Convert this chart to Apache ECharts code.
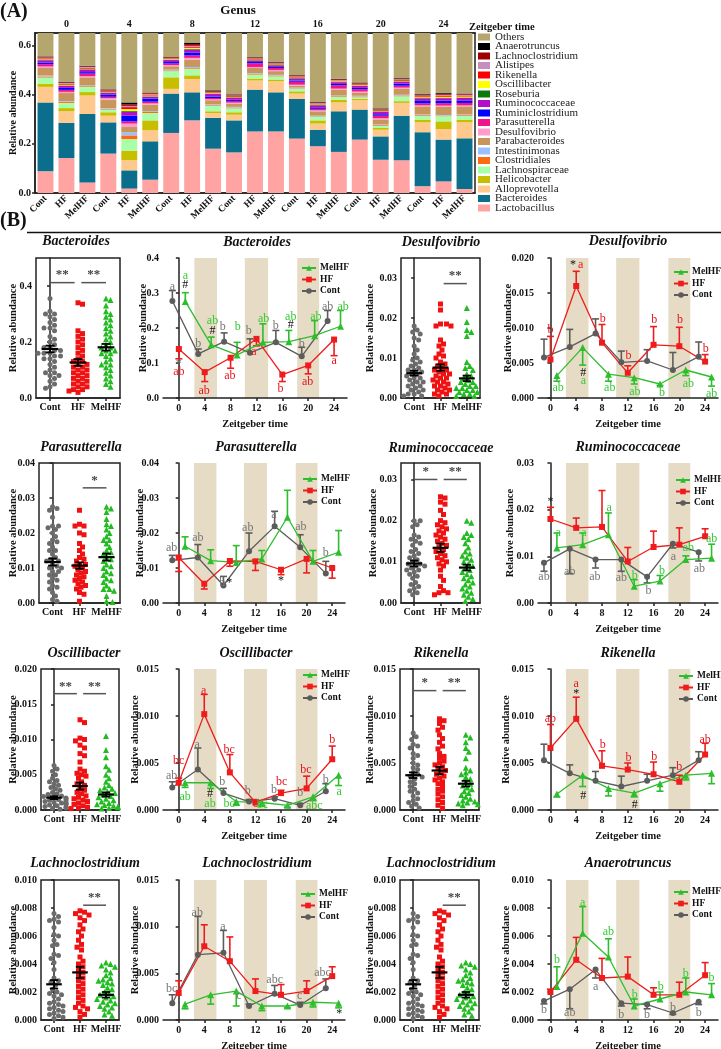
<!DOCTYPE html>
<html>
<head>
<meta charset="utf-8">
<script src="https://cdn.jsdelivr.net/npm/echarts@6/dist/echarts.min.js"></script>
<style>
  html, body { margin: 0; padding: 0; background: #fff; }
  #main { width: 721px; height: 1049px; }
</style>
</head>
<body>
<div id="main"></div>
<script>
// ---------- shared labels ----------
const groupNames = ['Cont', 'HF', 'MelHF'];
const timePoints = [0, 4, 8, 12, 16, 20, 24];

// ---------- panel A: genus stacked bars (Cont0, HF0, MelHF0, Cont4, ...) ----------
const genusNames = ['Lactobacillus', 'Bacteroides', 'Alloprevotella', 'Helicobacter', 'Lachnospiraceae',
  'Clostridiales', 'Intestinimonas', 'Parabacteroides', 'Desulfovibrio', 'Parasutterella',
  'Ruminiclostridium', 'Ruminococcaceae', 'Roseburia', 'Oscillibacter', 'Rikenella', 'Alistipes',
  'Lachnoclostridium', 'Anaerotruncus', 'Others'];
const lactobacillus = [.088, .142, .043, .160, .018, .054, .244, .295, .180, .165, .250, .250, .221, .190, .167, .217, .135, .133, .027, .047, .016];
const bacteroides = [.280, .143, .278, .127, .074, .156, .160, .114, .125, .130, .170, .159, .161, .067, .165, .122, .095, .181, .220, .170, .206];
const alloprevotella = [.063, .047, .075, .027, .041, .045, .019, .054, .020, .023, .037, .045, .022, .025, .036, .038, .027, .052, .040, .043, .065];
const helicobacter = [.013, .013, .014, .014, .039, .040, .047, .015, .007, .010, .008, .007, .009, .013, .011, .006, .007, .007, .011, .031, .011];
const lachnospiraceae = [.025, .021, .021, .011, .047, .030, .025, .027, .023, .016, .016, .013, .010, .014, .011, .006, .009, .020, .016, .021, .016];
const clostridiales = [.004, .004, .003, .003, .015, .004, .003, .003, .003, .003, .003, .003, .002, .002, .003, .003, .003, .003, .003, .002, .003];
const intestinimonas = [.004, .003, .003, .003, .013, .003, .003, .004, .003, .003, .003, .003, .003, .003, .003, .003, .003, .003, .003, .003, .003];
const parabacteroides = [.031, .033, .033, .034, .021, .027, .014, .030, .016, .013, .021, .015, .008, .018, .024, .012, .020, .024, .032, .034, .032];
const desulfovibrio = [.006, .005, .005, .006, .014, .005, .005, .007, .004, .004, .004, .005, .004, .004, .004, .005, .005, .005, .004, .004, .004];
const parasutterella = [.009, .008, .010, .006, .009, .007, .006, .010, .005, .007, .015, .008, .012, .006, .014, .010, .010, .008, .008, .010, .010];
const ruminiclostridium = [.006, .008, .006, .008, .023, .012, .006, .012, .006, .005, .005, .004, .005, .006, .005, .005, .006, .008, .010, .010, .010];
const ruminococcaceae = [.010, .008, .010, .008, .016, .008, .008, .012, .010, .008, .006, .006, .008, .008, .007, .008, .010, .008, .010, .010, .010];
const roseburia = [.002, .002, .002, .002, .003, .002, .002, .003, .002, .002, .002, .002, .002, .002, .002, .002, .002, .002, .002, .002, .002];
const oscillibacter = [.002, .003, .002, .002, .008, .003, .002, .004, .002, .002, .002, .002, .002, .002, .002, .002, .002, .002, .003, .004, .004];
const rikenella = [.004, .004, .004, .003, .008, .004, .003, .005, .003, .003, .003, .003, .003, .003, .003, .003, .003, .004, .004, .005, .004];
const alistipes = [.003, .003, .003, .002, .005, .003, .002, .003, .002, .002, .002, .002, .002, .002, .002, .002, .002, .002, .003, .003, .003];
const lachnoclostridium = [.003, .003, .003, .003, .006, .003, .003, .007, .003, .003, .003, .003, .003, .003, .003, .003, .003, .003, .004, .004, .003];
const anaerotruncus = [.002, .002, .002, .002, .008, .002, .002, .006, .003, .002, .002, .002, .002, .002, .002, .002, .002, .002, .002, .003, .002];
const others = [.45, .53, .48, .56, .63, .57, .44, .39, .58, .60, .45, .48, .51, .62, .54, .55, .64, .53, .59, .58, .58];
const genusValues = [lactobacillus, bacteroides, alloprevotella, helicobacter, lachnospiraceae, clostridiales,
  intestinimonas, parabacteroides, desulfovibrio, parasutterella, ruminiclostridium, ruminococcaceae,
  roseburia, oscillibacter, rikenella, alistipes, lachnoclostridium, anaerotruncus, others];
const genusColors = ['#FFA3A3', '#0B6E8C', '#FFC88C', '#C8BE00', '#A8FFA8', '#FF6A10', '#9CC0FF', '#C8965A',
  '#FF9CCB', '#F0148C', '#0000FF', '#B010C8', '#0A7A0A', '#FFFF00', '#FF0000', '#C88CC0', '#9C0000',
  '#000000', '#B5A66E'];

// ---------- panel B: per-animal dots ----------
const bactDotCont = [.355, .31, .30, .30, .29, .28, .27, .26, .25, .25, .24, .22, .21, .20, .19, .18, .18, .17, .17, .16, .16, .16, .15, .15, .14, .14, .13, .12, .11, .10, .09, .09, .08, .08, .07, .06, .05, .04, .035];
const bactDotHF = [.34, .335, .24, .23, .22, .21, .20, .19, .18, .17, .16, .15, .14, .13, .13, .12, .12, .11, .11, .10, .10, .09, .09, .08, .08, .07, .07, .06, .06, .05, .05, .04, .04, .03, .03, .025, .02];
const bactDotMel = [.355, .35, .33, .31, .30, .29, .28, .27, .26, .25, .24, .23, .22, .21, .20, .19, .18, .18, .17, .17, .16, .16, .15, .14, .13, .12, .12, .11, .10, .09, .08, .07, .06, .05, .04];
const desulDotCont = [.018, .017, .0165, .016, .015, .0145, .013, .012, .011, .010, .0095, .009, .0085, .008, .0075, .007, .007, .0065, .006, .006, .0055, .005, .005, .0045, .004, .004, .0035, .003, .003, .0025, .002, .002, .0015, .001, .001, .0005, .0005];
const desulDotHF = [.0235, .022, .0185, .018, .018, .0185, .0145, .0135, .013, .012, .011, .0105, .010, .009, .0085, .008, .0075, .007, .007, .0065, .006, .006, .0055, .005, .005, .0045, .004, .004, .0035, .003, .003, .0025, .002, .002, .0015, .001, .001, .0005];
const desulDotMel = [.0225, .019, .017, .0165, .0155, .009, .008, .0075, .007, .006, .0055, .005, .0045, .004, .004, .0035, .003, .003, .0025, .0025, .002, .002, .0015, .0015, .001, .001, .0005, .0005];
const paraDotCont = [.0275, .027, .0265, .0245, .022, .022, .0215, .021, .020, .019, .018, .0175, .017, .016, .015, .015, .014, .013, .0125, .012, .012, .011, .0105, .010, .010, .009, .009, .008, .008, .007, .0065, .006, .005, .0045, .004, .003, .002, .001, .0005];
const paraDotHF = [.0265, .022, .0225, .022, .020, .0195, .017, .016, .015, .014, .013, .0125, .012, .011, .011, .0105, .010, .0095, .009, .0085, .008, .0075, .007, .0065, .006, .0055, .005, .0045, .004, .003, .0025, .0005];
const paraDotMel = [.0275, .027, .026, .024, .0225, .022, .021, .020, .019, .018, .018, .017, .016, .015, .0145, .014, .013, .0125, .012, .011, .0105, .010, .009, .0085, .008, .007, .0065, .006, .005, .004, .004, .0035, .002, .0005, .0003];
const rumiDotCont = [.020, .020, .019, .0185, .0165, .016, .0155, .015, .0145, .014, .013, .0125, .012, .0115, .011, .0105, .010, .0095, .0095, .009, .009, .0085, .008, .008, .0075, .007, .0065, .006, .005, .0045, .004, .0035, .003, .0025, .002];
const rumiDotHF = [.0258, .0255, .0245, .024, .0225, .0215, .020, .0195, .019, .0185, .018, .0175, .017, .0165, .016, .0155, .015, .0145, .014, .0135, .013, .0125, .012, .0115, .011, .0105, .010, .0095, .009, .008, .0065, .0055, .004, .003, .0025, .0025, .002];
const rumiDotMel = [.020, .0195, .017, .0165, .016, .0155, .0145, .0135, .0125, .012, .0115, .011, .0105, .010, .0095, .009, .0085, .008, .0075, .007, .0065, .006, .0055, .005, .0045, .004, .0035, .003, .0025, .002, .0015, .001, .0005];
const oscDotCont = [.0063, .0058, .0055, .0050, .0045, .0042, .0040, .0037, .0035, .0032, .0030, .0028, .0025, .0023, .0022, .0020, .0019, .0018, .0017, .0016, .0015, .0014, .0013, .0012, .0011, .0010, .0010, .0009, .0008, .0007, .0006, .0005, .0004, .0003, .0002, .0001];
const oscDotHF = [.0128, .0124, .0102, .0100, .0098, .0092, .0088, .0080, .0077, .0068, .0058, .0055, .0052, .0050, .0048, .0045, .0040, .0037, .0035, .0030, .0028, .0025, .0023, .0020, .0018, .0016, .0014, .0012, .0010, .0008, .0006, .0004, .0003, .0002];
const oscDotMel = [.0105, .0085, .0075, .0062, .0057, .0050, .0045, .0040, .0035, .0032, .0030, .0028, .0026, .0024, .0022, .0020, .0018, .0016, .0014, .0012, .0010, .0008, .0007, .0006, .0005, .0004, .0003, .0002];
const rikDotCont = [.0082, .0078, .0075, .0070, .0068, .0066, .0060, .0058, .0055, .0050, .0048, .0045, .0043, .0040, .0038, .0036, .0035, .0033, .0030, .0028, .0025, .0022, .0020, .0018, .0015, .0012, .0010, .0008, .0006, .0004, .0002];
const rikDotHF = [.0097, .0095, .0092, .0088, .0085, .0080, .0076, .0072, .0068, .0065, .0060, .0057, .0055, .0052, .0050, .0048, .0046, .0044, .0042, .0040, .0038, .0036, .0034, .0032, .0030, .0028, .0025, .0022, .0020, .0017, .0014, .0011, .0008, .0005, .0002];
const rikDotMel = [.0080, .0077, .0072, .0066, .0062, .0055, .0045, .0042, .0040, .0038, .0035, .0033, .0030, .0028, .0026, .0024, .0022, .0020, .0018, .0016, .0014, .0012, .0010, .0009, .0008, .0007, .0006, .0005];
const lachDotCont = [.0076, .0074, .0072, .0071, .0070, .0066, .0061, .0060, .0057, .0054, .0053, .0047, .0046, .0044, .0041, .0036, .0030, .0028, .0027, .0025, .0022, .0020, .0019, .0018, .0017, .0015, .0013, .0012, .0011, .0010, .0009, .0008, .0007, .0006, .0005, .0004, .0003, .0002, .0001];
const lachDotHF = [.0078, .0077, .0076, .0075, .0073, .0071, .0068, .0065, .0063, .0060, .0057, .0054, .0052, .0050, .0045, .0042, .0040, .0038, .0036, .0034, .0032, .0030, .0028, .0026, .0024, .0022, .0020, .0018, .0016, .0014, .0012, .0010, .0009, .0008, .0006, .0004, .0002];
const lachDotMel = [.0041, .0040, .0039, .0038, .0036, .0034, .0032, .0030, .0029, .0028, .0027, .0026, .0025, .0023, .0022, .0020, .0019, .0018, .0017, .0016, .0015, .0014, .0013, .0012, .0011, .0010, .0009, .0008, .0006, .0004, .0003];

// mean and SEM per group [Cont, HF, MelHF]
const bactStats = [[.175, .012], [.127, .012], [.181, .012]];
const desulStats = [[.0062, .0006], [.0076, .0008], [.0049, .0007]];
const paraStats = [[.0117, .0010], [.0107, .0009], [.0131, .0010]];
const rumiStats = [[.0096, .0007], [.0134, .0010], [.0086, .0007]];
const oscStats = [[.00175, .0002], [.0034, .0005], [.0022, .0003]];
const rikStats = [[.0037, .0003], [.0042, .0004], [.0028, .0003]];
const lachStats = [[.00255, .0003], [.0034, .0004], [.0018, .0002]];

// significance bars [from group, to group, height, stars]
const bactSig = [[0, 1, .412, '**'], [1, 2, .412, '**']];
const desulSig = [[1, 2, .0286, '**']];
const paraSig = [[1, 2, .0329, '*']];
const rumiSig = [[0, 1, .030, '*'], [1, 2, .030, '**']];
const oscSig = [[0, 1, .0165, '**'], [1, 2, .0165, '**']];
const rikSig = [[0, 1, .0127, '*'], [1, 2, .0127, '**']];
const lachSig = [[1, 2, .0082, '**']];

// ---------- panel B: time courses [mean, error (+ up / - down)] ----------
const bactCont = [[.277, .030], [.126, .014], [.161, .025], [.129, .040], [.159, .034], [.119, .026], [.220, .030]];
const bactHF = [[.140, -.028], [.074, -.027], [.115, -.030], [.169, -.020], [.067, -.020], [.093, -.024], [.167, -.046]];
const bactMel = [[.276, .025], [.152, .022], [.123, .036], [.159, .053], [.161, .032], [.178, .043], [.205, .045]];
const desulCont = [[.0058, .0026], [.0073, .0025], [.0092, .0021], [.0051, .0016], [.0053, .0016], [.0040, .0025], [.0059, .0021]];
const desulHF = [[.0055, .0033], [.0160, .0021], [.0079, .0026], [.0036, .0010], [.0076, .0026], [.0074, .0027], [.0052, .0010]];
const desulMel = [[.0032, -.0008], [.0072, -.0025], [.0034, -.0010], [.0029, -.0009], [.0020, -.0002], [.0040, -.0008], [.0030, -.0013]];
const paraCont = [[.0122, .0014], [.0130, .0037], [.0050, .0026], [.0148, .0052], [.0219, .0043], [.0159, .0036], [.0084, .0035]];
const paraHF = [[.0130, -.0040], [.0055, -.0015], [.0120, -.0015], [.0119, -.0026], [.0095, -.0014], [.0126, -.0040], [.0100, -.0029]];
const paraMel = [[.0162, .0027], [.0121, .0031], [.0116, .0048], [.0126, .0024], [.0245, .0077], [.0119, .0031], [.0145, .0062]];
const rumiCont = [[.0086, -.0018], [.0116, -.0053], [.0093, -.0018], [.0093, -.0025], [.0056, -.0013], [.0127, -.0009], [.0109, -.0019]];
const rumiHF = [[.0180, .0025], [.0161, .0021], [.0163, .0078], [.0089, .0030], [.0120, .0034], [.0125, .0036], [.0143, .0016]];
const rumiMel = [[.0118, .0032], [.0125, .0025], [.0146, .0047], [.0036, .0014], [.0047, .0012], [.0093, .0008], [.0096, .0030]];
const oscCont = [[.0024, .0006], [.0043, .0023], [.0018, .0005], [.0009, .0002], [.0012, .0002], [.0005, .0002], [.0020, .0008]];
const oscHF = [[.0029, .0005], [.0102, .0021], [.0040, .0019], [.0008, .0003], [.0018, .0003], [.0023, .0013], [.0054, .0014]];
const oscMel = [[.0029, -.0005], [.0029, -.0006], [.0009, -.0004], [.0008, -.0004], [.0005, -.0002], [.0014, -.0004], [.0037, -.0011]];
const rikCont = [[.0053, .0017], [.0039, .0009], [.0031, .0010], [.0025, .0011], [.0031, .0007], [.0037, .0008], [.0053, .0009]];
const rikHF = [[.0066, .0025], [.0097, .0023], [.0047, .0016], [.0043, .0007], [.0038, .0013], [.0030, .0007], [.0059, .0012]];
const rikMel = [[.0017, -.0003], [.0037, -.0012], [.0023, -.0008], [.0018, -.0004], [.0028, -.0008], [.0037, -.0005], [.0039, -.0011]];
const lachCont = [[.0018, .0009], [.0070, .0041], [.0072, .0024], [.0015, .0002], [.0028, .0009], [.0016, .0003], [.0034, .0010]];
const lachHF = [[.0029, .0013], [.0079, .0023], [.0063, .0026], [.0031, .0013], [.0027, .0011], [.0031, .0011], [.0047, .0010]];
const lachMel = [[.0017, -.0005], [.0027, -.0010], [.0031, -.0016], [.0015, -.0005], [.0015, -.0002], [.0019, -.0005], [.0018, -.0005]];
const anaeCont = [[.00135, -.0002], [.0022, -.0014], [.0036, -.0006], [.0012, -.0002], [.0011, -.0003], [.0005, -.0001], [.0013, -.0002]];
const anaeHF = [[.0020, .0002], [.0043, .0016], [.0030, .0014], [.0031, .0014], [.0018, .0005], [.0018, .0009], [.0032, .0009]];
const anaeMel = [[.0024, .0014], [.0062, .0019], [.0045, .0013], [.0010, .0005], [.0015, .0005], [.0020, .0010], [.0018, .0008]];

// letters / symbols on the time courses [x, y, text, colour key]
const bactNotes = [[-1, .317, 'a', 'c'], [1, .35, 'a', 'm'], [1, .322, '#', 'k'], [3, .155, 'b', 'c'], [5.2, .221, 'ab', 'm'], [5.2, .193, '#', 'k'],
  [6.8, .202, 'b', 'c'], [9.1, .202, 'b', 'm'], [10.8, .193, 'b', 'c'], [13.1, .226, 'ab', 'm'], [15, .207, 'b', 'c'], [17.3, .231, 'ab', 'm'],
  [17.3, .209, '#', 'k'], [19, .155, 'b', 'c'], [21.2, .231, 'ab', 'm'], [23, .26, 'ab', 'c'], [25.4, .26, 'ab', 'm'], [0, .099, '*', 'c'],
  [0, .074, 'ab', 'h'], [3.9, .021, 'ab', 'h'], [7.9, .064, 'ab', 'h'], [11.6, .131, 'a', 'h'], [15.7, .026, 'b', 'h'], [19.9, .045, 'ab', 'h'], [24, .107, 'a', 'h']];
const desulNotes = [[3.5, .019, '*', 'k'], [4.7, .019, 'a', 'h'], [0, .0097, 'b', 'h'], [8.1, .0113, 'b', 'h'], [12.1, .006, 'b', 'h'], [16.1, .0111, 'b', 'h'],
  [20.1, .0111, 'b', 'h'], [24.1, .007, 'b', 'h'], [1.2, .0014, 'ab', 'm'], [5.1, .0036, '#', 'k'], [5.1, .0025, 'a', 'm'], [9.2, .0014, 'ab', 'm'],
  [13.1, .0009, 'ab', 'm'], [17.3, .0007, 'b', 'm'], [21.4, .002, 'ab', 'm'], [25, .0006, 'ab', 'm']];
const paraNotes = [[-1.1, .0157, 'ab', 'c'], [3, .0186, 'ab', 'c'], [6.8, .0059, 'b', 'c'], [7.9, .0057, '*', 'k'], [10.8, .0214, 'ab', 'c'],
  [14.9, .0252, 'a', 'c'], [19.1, .0219, 'ab', 'c'], [23, .0143, 'b', 'c'], [16, .0062, '*', 'k']];
const rumiNotes = [[0, .0216, '*', 'k'], [1.2, .015, 'a', 'm'], [5.2, .015, 'a', 'm'], [9.1, .0204, 'a', 'm'], [13.1, .0059, 'b', 'm'], [17.3, .0068, 'b', 'm'],
  [21.4, .0118, 'ab', 'm'], [25, .0137, 'ab', 'm'], [-1, .0056, 'ab', 'c'], [3, .0066, 'ab', 'c'], [6.9, .0057, 'ab', 'c'], [11, .0054, 'ab', 'c'],
  [15.2, .0027, 'b', 'c'], [19.1, .0099, 'a', 'c'], [23.1, .0073, 'ab', 'c']];
const oscNotes = [[-1.1, .0036, 'ab', 'c'], [0, .0052, 'bc', 'h'], [3.9, .0127, 'a', 'h'], [2.9, .0069, 'a', 'c'], [7.9, .0064, 'bc', 'h'], [6.8, .003, 'b', 'c'],
  [10.8, .002, 'b', 'c'], [12, .0007, 'c', 'h'], [13.1, .0006, 'bc', 'm'], [14.9, .0021, 'b', 'c'], [16.1, .003, 'bc', 'h'], [17.2, .0004, 'c', 'm'],
  [19, .0018, 'b', 'c'], [19.9, .0043, 'bc', 'h'], [21.2, .0004, 'abc', 'm'], [23, .0032, 'b', 'c'], [24, .0075, 'b', 'h'], [25.1, .0019, 'a', 'm'],
  [1, .0014, 'ab', 'm'], [4.9, .0017, '#', 'k'], [4.9, .0007, 'ab', 'm'], [7.9, .0007, 'bc', 'm']];
const rikNotes = [[0, .0097, 'ab', 'h'], [4, .0134, 'a', 'h'], [4, .0124, '*', 'k'], [8.1, .0069, 'b', 'h'], [12.1, .0056, 'b', 'h'], [16.1, .0057, 'b', 'h'],
  [20, .0046, 'b', 'h'], [24, .0075, 'ab', 'h'], [5.1, .0015, '#', 'k'], [13.1, .0006, '#', 'k']];
const lachNotes = [[-1.1, .0033, 'bc', 'c'], [2.9, .0115, 'ab', 'c'], [6.9, .010, 'a', 'c'], [9.4, .0026, 'c', 'c'], [15, .0043, 'abc', 'c'],
  [18.9, .0026, 'c', 'c'], [22.5, .005, 'abc', 'c'], [25.1, .0007, '*', 'k']];
const anaeNotes = [[1, .0043, 'b', 'm'], [5, .0084, 'a', 'm'], [9, .0063, 'ab', 'm'], [13.1, .0018, 'b', 'm'], [17.1, .0024, 'b', 'm'], [21, .0033, 'b', 'm'],
  [25, .003, 'b', 'm'], [-1, .0007, 'b', 'c'], [3, .0005, 'ab', 'c'], [7, .0024, 'a', 'c'], [11, .0004, 'b', 'c'], [15, .0004, 'b', 'c'],
  [19, .0009, 'b', 'c'], [23, .0005, 'b', 'c']];

const darkBands = [[2.4, 5.9], [10.2, 13.8], [18.3, 21.7]];

// ---------- styles ----------
const FONT = '"Liberation Serif", "Times New Roman", serif';
const lineColors = ['#5c5c5c', '#EE1C1C', '#2DBE2D'];
const dotColors = ['#6b6b6b', '#F01212', '#22BB22'];
const symbols = ['circle', 'rect', 'triangle'];
const noteColors = { c: '#777777', h: '#E8141C', m: '#33CC33', k: '#111111' };
const axisLineStyle = { color: '#222', width: 1.5 };
const tickLabel = { fontFamily: FONT, fontWeight: 'bold', fontSize: 10, color: '#111' };

const grids = [], xAxes = [], yAxes = [], series = [], legends = [], graphics = [];

// ---------- panel A ----------
const barCategories = [];
timePoints.forEach(t => groupNames.forEach(g => barCategories.push(g + '-' + t)));
grids.push({ left: 35, top: 33, width: 440, height: 160, show: true, borderColor: '#222', borderWidth: 1.5, outerBoundsMode: 'none' });
xAxes.push({
  gridIndex: 0, type: 'category', data: barCategories,
  axisLine: { lineStyle: axisLineStyle },
  axisTick: { alignWithLabel: true, interval: 0, length: 3, lineStyle: axisLineStyle },
  axisLabel: { ...tickLabel, fontSize: 9.5, interval: 0, rotate: 45, margin: 4, formatter: v => v.split('-')[0] }
});
xAxes.push({
  gridIndex: 0, type: 'category', position: 'top', data: barCategories,
  axisLine: { lineStyle: axisLineStyle },
  axisTick: { alignWithLabel: true, interval: 0, length: 3, lineStyle: axisLineStyle },
  axisLabel: { ...tickLabel, interval: 0, margin: 4, formatter: (v, i) => (i % 3 === 1 ? v.split('-')[1] : '') }
});
yAxes.push({
  gridIndex: 0, type: 'value', min: 0, max: 0.65,
  name: 'Relative abundance', nameLocation: 'middle', nameGap: 16.5, nameMoveOverlap: false,
  nameTextStyle: { fontFamily: FONT, fontWeight: 'bold', fontSize: 10, color: '#111' },
  axisLine: { show: true, lineStyle: axisLineStyle },
  axisTick: { show: true, customValues: [0, 0.2, 0.4, 0.6], length: 3, lineStyle: axisLineStyle },
  axisLabel: { ...tickLabel, customValues: [0, 0.2, 0.4, 0.6], formatter: v => v.toFixed(1), margin: 4 },
  splitLine: { show: false }
});
genusNames.forEach((g, k) => {
  series.push({
    type: 'bar', name: g, stack: 'genus', xAxisIndex: 0, yAxisIndex: 0, barCategoryGap: '24%',
    itemStyle: { color: genusColors[k] }, data: genusValues[k], clip: true
  });
});
// legend of panel A, top item = Others
genusNames.slice().reverse().forEach((g, k) => {
  const y = 37 + k * 9.5;
  graphics.push({ type: 'rect', shape: { x: 478, y: y - 3.5, width: 12, height: 7 }, style: { fill: genusColors[genusNames.indexOf(g)] } });
  graphics.push({ type: 'text', x: 495, y: y, style: { text: g, font: '11px ' + FONT, fill: '#222', verticalAlign: 'middle' } });
});
graphics.push(
  { type: 'text', left: 0, top: 2, style: { text: '(A)', font: 'bold 20px ' + FONT, fill: '#111' } },
  { type: 'text', x: 238, y: 11, style: { text: 'Genus', font: 'bold 13px ' + FONT, fill: '#111', align: 'center', verticalAlign: 'middle' } },
  { type: 'text', x: 469, y: 27, style: { text: 'Zeitgeber time', font: 'bold 10.5px ' + FONT, fill: '#111', verticalAlign: 'middle' } },
  { type: 'text', left: 0, top: 211, style: { text: '(B)', font: 'bold 20px ' + FONT, fill: '#111' } },
  { type: 'line', shape: { x1: 27, y1: 232.5, x2: 721, y2: 232.5 }, style: { stroke: '#111', lineWidth: 1.5 } }
);

// ---------- helpers ----------
function yTicks(max, step) {
  const t = [];
  for (let v = 0; v <= max + 1e-9; v += step) t.push(+v.toFixed(6));
  return t;
}
function makeY(gi, o) {
  const ticks = yTicks(o.max, o.step);
  return {
    gridIndex: gi, type: 'value', min: 0, max: o.max,
    name: 'Relative abundance', nameLocation: 'middle', nameGap: o.nameGap, nameMoveOverlap: false,
    nameTextStyle: { fontFamily: FONT, fontWeight: 'bold', fontSize: 10.5, color: '#111' },
    axisLine: { show: true, lineStyle: axisLineStyle },
    axisTick: { show: true, customValues: ticks, length: 3, lineStyle: axisLineStyle },
    axisLabel: { ...tickLabel, customValues: ticks, formatter: v => v.toFixed(o.dec), margin: 4 },
    splitLine: { show: false }
  };
}
function title(x, y, text) {
  graphics.push({ type: 'text', x, y, style: { text, font: 'italic bold 14px ' + FONT, fill: '#111', align: 'center', verticalAlign: 'middle' } });
}
// beeswarm-like horizontal placement of the dots (pixel space)
function swarmOffsets(vals, max, h, catW) {
  const d = 4.6, placed = [], offs = [];
  const order = vals.map((v, i) => i).sort((a, b) => vals[b] - vals[a]);
  order.forEach(i => {
    const y = vals[i] / max * h;
    let x = 0;
    for (let k = 0; k < 60; k++) {
      const c = k === 0 ? 0 : (k % 2 ? 1 : -1) * Math.ceil(k / 2) * 1.5;
      if (Math.abs(c) > 12) { x = (k % 2 ? 1 : -1) * 12; break; }
      if (placed.every(p => (p[0] - c) ** 2 + (p[1] - y) ** 2 >= d * d)) { x = c; break; }
    }
    placed.push([x, y]);
    offs[i] = x / catW;
  });
  return offs;
}

function addScatterPanel(o) {
  const gi = grids.length, xi = xAxes.length, yi = yAxes.length;
  grids.push({ left: o.left, top: o.top, width: o.width, height: o.height, show: true, borderColor: '#222', borderWidth: 1.5, outerBoundsMode: 'none' });
  xAxes.push({
    gridIndex: gi, type: 'value', min: -0.5, max: 2.5,
    axisLine: { lineStyle: axisLineStyle },
    axisTick: { customValues: [0, 1, 2], length: 3, lineStyle: axisLineStyle },
    axisLabel: { ...tickLabel, customValues: [0, 1, 2], margin: 4, formatter: v => groupNames[Math.round(v)] },
    splitLine: { show: false }
  });
  yAxes.push(makeY(gi, o));
  o.dots.forEach((vals, i) => {
    const offs = swarmOffsets(vals, o.max, o.height, o.width / 3);
    series.push({
      type: 'scatter', name: groupNames[i] + ' dots', xAxisIndex: xi, yAxisIndex: yi,
      symbol: symbols[i], symbolSize: i === 2 ? 6 : 5, itemStyle: { color: dotColors[i], opacity: 1 },
      data: vals.map((v, k) => [i + offs[k], v]), z: 2
    });
  });
  series.push({
    type: 'custom', name: 'mean', xAxisIndex: xi, yAxisIndex: yi, z: 4,
    data: o.stats.map((s, i) => [i, s[0], s[1]]),
    renderItem: (p, api) => {
      const i = api.value(0), m = api.value(1), s = api.value(2);
      const c = api.coord([i, m]), hi = api.coord([i, m + s]), lo = api.coord([i, m - s]);
      const w = api.size([0.3, 0])[0], cw = api.size([0.16, 0])[0];
      const st = { stroke: '#000', lineWidth: 1.8 };
      return {
        type: 'group', children: [
          { type: 'line', shape: { x1: c[0] - w, y1: c[1], x2: c[0] + w, y2: c[1] }, style: { stroke: '#000', lineWidth: 2.2 } },
          { type: 'line', shape: { x1: c[0], y1: hi[1], x2: c[0], y2: lo[1] }, style: st },
          { type: 'line', shape: { x1: c[0] - cw, y1: hi[1], x2: c[0] + cw, y2: hi[1] }, style: st },
          { type: 'line', shape: { x1: c[0] - cw, y1: lo[1], x2: c[0] + cw, y2: lo[1] }, style: st }
        ]
      };
    }
  });
  series.push({
    type: 'custom', name: 'sig', xAxisIndex: xi, yAxisIndex: yi, z: 4,
    data: o.sig.map(s => [s[0], s[1], s[2]]),
    renderItem: (p, api) => {
      const s = o.sig[p.dataIndex];
      const a = api.coord([s[0] + (s[0] === 0 ? 0 : 0.12), s[2]]);
      const b = api.coord([s[1] - (s[1] === 1 ? 0.12 : 0), s[2]]);
      return {
        type: 'group', children: [
          { type: 'line', shape: { x1: a[0], y1: a[1], x2: b[0], y2: b[1] }, style: { stroke: '#555', lineWidth: 1.5 } },
          { type: 'text', x: (a[0] + b[0]) / 2, y: a[1] - 1, style: { text: s[3], font: 'bold 13px ' + FONT, fill: '#444', align: 'center', verticalAlign: 'bottom' } }
        ]
      };
    }
  });
  title(o.titleX, o.titleY, o.title);
}

function addLinePanel(o) {
  const gi = grids.length, xi = xAxes.length, yi = yAxes.length;
  grids.push({ left: o.left, top: o.top, width: o.width, height: o.height, outerBoundsMode: 'none' });
  xAxes.push({
    gridIndex: gi, type: 'value', min: o.xmin, max: 26,
    name: 'Zeitgeber time', nameLocation: 'middle', nameGap: 21, nameMoveOverlap: false,
    nameTextStyle: { fontFamily: FONT, fontWeight: 'bold', fontSize: 10.5, color: '#111' },
    axisLine: { lineStyle: axisLineStyle },
    axisTick: { customValues: timePoints, length: 3, lineStyle: axisLineStyle },
    axisLabel: { ...tickLabel, customValues: timePoints, margin: 5 },
    splitLine: { show: false }
  });
  yAxes.push(makeY(gi, o));
  series.push({
    type: 'custom', name: 'bands', xAxisIndex: xi, yAxisIndex: yi, z: 0, silent: true,
    data: darkBands,
    renderItem: (p, api) => {
      const a = api.coord([api.value(0), o.max]), b = api.coord([api.value(1), 0]);
      return { type: 'rect', shape: { x: a[0], y: a[1], width: b[0] - a[0], height: b[1] - a[1] }, style: { fill: '#E6DCC5' } };
    }
  });
  const offs = [-1, 0, 1];
  [o.cont, o.hf, o.mel].forEach((arr, i) => {
    const col = lineColors[i];
    series.push({
      type: 'line', name: groupNames[i], xAxisIndex: xi, yAxisIndex: yi, z: 3,
      symbol: symbols[i], symbolSize: i === 2 ? 7 : 6, showSymbol: true,
      itemStyle: { color: col }, lineStyle: { color: col, width: 1.3 },
      data: arr.map((d, k) => [timePoints[k] + offs[i], d[0]])
    });
    series.push({
      type: 'custom', name: 'err', xAxisIndex: xi, yAxisIndex: yi, z: 2,
      data: arr.map((d, k) => [timePoints[k] + offs[i], d[0], d[1]]),
      renderItem: (p, api) => {
        const x = api.value(0), y = api.value(1), e = api.value(2);
        const a = api.coord([x, y]), b = api.coord([x, y + e]);
        const st = { stroke: col, lineWidth: 1.6 };
        return {
          type: 'group', children: [
            { type: 'line', shape: { x1: a[0], y1: a[1], x2: b[0], y2: b[1] }, style: st },
            { type: 'line', shape: { x1: b[0] - 3.5, y1: b[1], x2: b[0] + 3.5, y2: b[1] }, style: st }
          ]
        };
      }
    });
  });
  series.push({
    type: 'custom', name: 'notes', xAxisIndex: xi, yAxisIndex: yi, z: 5,
    data: o.notes.map(n => [n[0], n[1]]),
    renderItem: (p, api) => {
      const n = o.notes[p.dataIndex];
      const c = api.coord([n[0], n[1]]);
      return { type: 'text', x: c[0], y: c[1], style: { text: n[2], font: '12px ' + FONT, fill: noteColors[n[3]], align: 'center', verticalAlign: 'middle' } };
    }
  });
  legends.push({
    data: ['MelHF', 'HF', 'Cont'], orient: 'vertical', left: o.legLeft, top: o.legTop, padding: 0,
    itemWidth: 14, itemHeight: 7, itemGap: 1.5, selectedMode: false,
    textStyle: { fontFamily: FONT, fontWeight: 'bold', fontSize: 9.5, color: '#111', padding: [0, 0, 0, -1] }
  });
  title(o.titleX, o.titleY, o.title);
}

// ---------- panel B layout ----------
addScatterPanel({ left: 36, top: 258, width: 84, height: 140, max: 0.5, step: 0.2, dec: 1, nameGap: 17.5,
  dots: [bactDotCont, bactDotHF, bactDotMel], stats: bactStats, sig: bactSig, title: 'Bacteroides', titleX: 76, titleY: 241 });
addLinePanel({ left: 163, top: 258, width: 184, height: 140, xmin: -2.45, max: 0.4, step: 0.1, dec: 1, nameGap: 14.5,
  cont: bactCont, hf: bactHF, mel: bactMel, notes: bactNotes, legLeft: 301, legTop: 263, title: 'Bacteroides', titleX: 257, titleY: 242 });
addScatterPanel({ left: 401, top: 258, width: 79, height: 140, max: 0.035, step: 0.01, dec: 2, nameGap: 25.5,
  dots: [desulDotCont, desulDotHF, desulDotMel], stats: desulStats, sig: desulSig, title: 'Desulfovibrio', titleX: 441, titleY: 242 });
addLinePanel({ left: 538, top: 258, width: 180, height: 140, xmin: -1.93, max: 0.02, step: 0.005, dec: 3, nameGap: 24.5,
  cont: desulCont, hf: desulHF, mel: desulMel, notes: desulNotes, legLeft: 673, legTop: 267, title: 'Desulfovibrio', titleX: 628, titleY: 241 });

addScatterPanel({ left: 39, top: 463, width: 81, height: 140, max: 0.04, step: 0.01, dec: 2, nameGap: 20.5,
  dots: [paraDotCont, paraDotHF, paraDotMel], stats: paraStats, sig: paraSig, title: 'Parasutterella', titleX: 81, titleY: 447 });
addLinePanel({ left: 163, top: 463, width: 182, height: 140, xmin: -2.45, max: 0.04, step: 0.01, dec: 2, nameGap: 17.5,
  cont: paraCont, hf: paraHF, mel: paraMel, notes: paraNotes, legLeft: 302, legTop: 474, title: 'Parasutterella', titleX: 256, titleY: 447 });
addScatterPanel({ left: 401, top: 463, width: 79, height: 140, max: 0.034, step: 0.01, dec: 2, nameGap: 22.5,
  dots: [rumiDotCont, rumiDotHF, rumiDotMel], stats: rumiStats, sig: rumiSig, title: 'Ruminococcaceae', titleX: 441, titleY: 448 });
addLinePanel({ left: 538, top: 463, width: 180, height: 140, xmin: -1.93, max: 0.03, step: 0.01, dec: 2, nameGap: 22.5,
  cont: rumiCont, hf: rumiHF, mel: rumiMel, notes: rumiNotes, legLeft: 675, legTop: 475, title: 'Ruminococcaceae', titleX: 628, titleY: 447 });

addScatterPanel({ left: 41, top: 669, width: 78, height: 141, max: 0.02, step: 0.005, dec: 3, nameGap: 22.5,
  dots: [oscDotCont, oscDotHF, oscDotMel], stats: oscStats, sig: oscSig, title: 'Oscillibacter', titleX: 84, titleY: 653 });
addLinePanel({ left: 163, top: 669, width: 182, height: 141, xmin: -2.45, max: 0.015, step: 0.005, dec: 3, nameGap: 22.5,
  cont: oscCont, hf: oscHF, mel: oscMel, notes: oscNotes, legLeft: 302, legTop: 670, title: 'Oscillibacter', titleX: 256, titleY: 653 });
addScatterPanel({ left: 400, top: 669, width: 79, height: 141, max: 0.015, step: 0.005, dec: 3, nameGap: 24.5,
  dots: [rikDotCont, rikDotHF, rikDotMel], stats: rikStats, sig: rikSig, title: 'Rikenella', titleX: 441, titleY: 653 });
addLinePanel({ left: 538, top: 669, width: 180, height: 141, xmin: -1.93, max: 0.015, step: 0.005, dec: 3, nameGap: 25.8,
  cont: rikCont, hf: rikHF, mel: rikMel, notes: rikNotes, legLeft: 678, legTop: 671, title: 'Rikenella', titleX: 628, titleY: 653 });

addScatterPanel({ left: 41, top: 880, width: 78, height: 140, max: 0.01, step: 0.002, dec: 3, nameGap: 22.5,
  dots: [lachDotCont, lachDotHF, lachDotMel], stats: lachStats, sig: lachSig, title: 'Lachnoclostridium', titleX: 85, titleY: 863 });
addLinePanel({ left: 163, top: 880, width: 182, height: 140, xmin: -2.45, max: 0.015, step: 0.005, dec: 3, nameGap: 22.5,
  cont: lachCont, hf: lachHF, mel: lachMel, notes: lachNotes, legLeft: 300, legTop: 889, title: 'Lachnoclostridium', titleX: 257, titleY: 863 });
addScatterPanel({ left: 400, top: 880, width: 79, height: 140, max: 0.01, step: 0.002, dec: 3, nameGap: 24.5,
  dots: [lachDotCont, lachDotHF, lachDotMel], stats: lachStats, sig: lachSig, title: 'Lachnoclostridium', titleX: 441, titleY: 863 });
addLinePanel({ left: 538, top: 880, width: 180, height: 140, xmin: -1.93, max: 0.01, step: 0.002, dec: 3, nameGap: 25.8,
  cont: anaeCont, hf: anaeHF, mel: anaeMel, notes: anaeNotes, legLeft: 673, legTop: 887, title: 'Anaerotruncus', titleX: 628, titleY: 863 });

// ---------- render ----------
const myChart = echarts.init(document.getElementById('main'));
myChart.setOption({
  animation: false,
  backgroundColor: '#fff',
  grid: grids,
  xAxis: xAxes,
  yAxis: yAxes,
  legend: legends,
  graphic: graphics,
  series: series
});
</script>
</body>
</html>
